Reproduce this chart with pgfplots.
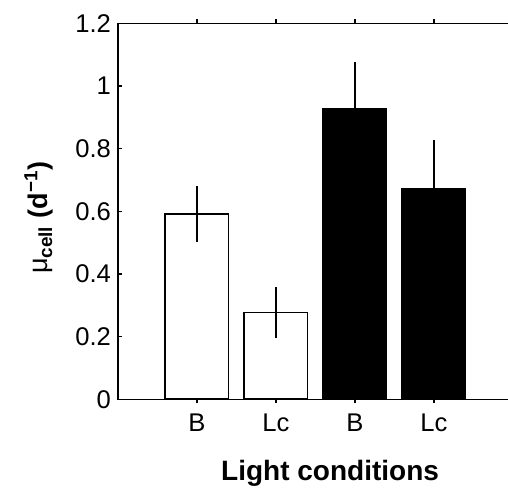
\documentclass[border=0pt]{standalone}
\usepackage{fontspec}
\setmainfont{Liberation Sans}
\usepackage{pgfplots}
\pgfplotsset{compat=1.18}
\begin{document}
\begin{tikzpicture}
\useasboundingbox (-59pt,-46.85pt) rectangle (195pt,199.65pt);
\clip (-59pt,-46.85pt) rectangle (195pt,199.65pt);
\begin{axis}[
  scale only axis, width=197.5pt, height=188pt,
  xmin=0, xmax=5, ymin=0, ymax=1.2,
  xtick={1,2,3,4}, xticklabels={B,Lc,B,Lc},
  ytick={0,0.2,0.4,0.6,0.8,1,1.2},
  yticklabels={0,0.2,0.4,0.6,0.8,1,1.2},
  tick align=inside, major tick length=2pt,
  tick style={line width=0.6pt, black},
  axis line style={line width=0.75pt},
  tick label style={font=\fontsize{12.8}{13}\selectfont},
  xticklabel style={yshift=-2pt},
  /pgf/number format/assume math mode=true,
  ylabel={μ\textsubscript{\textbf{cell}} \textbf{(d\textsuperscript{−1})}},
  ylabel style={at={(axis description cs:-0.2,0.483)}, anchor=center, font=\fontsize{13.5}{14}\selectfont},
  xlabel={\textbf{Light conditions}},
  xlabel style={at={(axis description cs:0.537,0)}, anchor=base, yshift=-40.35pt, font=\fontsize{14}{15}\selectfont},
  ybar, bar width=0.8,
]
\addplot[fill=white, draw=black, line width=0.9pt, bar shift=0,
  error bars/.cd, y dir=both, y explicit, error mark=none,
  error bar style={line width=0.75pt, black}]
  coordinates {(1,0.591) +- (0,0.09) (2,0.277) +- (0,0.081)};
\addplot[fill=black, draw=black, line width=0.9pt, bar shift=0,
  error bars/.cd, y dir=both, y explicit, error mark=none,
  error bar style={line width=0.75pt, black}]
  coordinates {(3,0.926) +- (0,0.15) (4,0.670) +- (0,0.157)};
\end{axis}
\end{tikzpicture}
\end{document}
